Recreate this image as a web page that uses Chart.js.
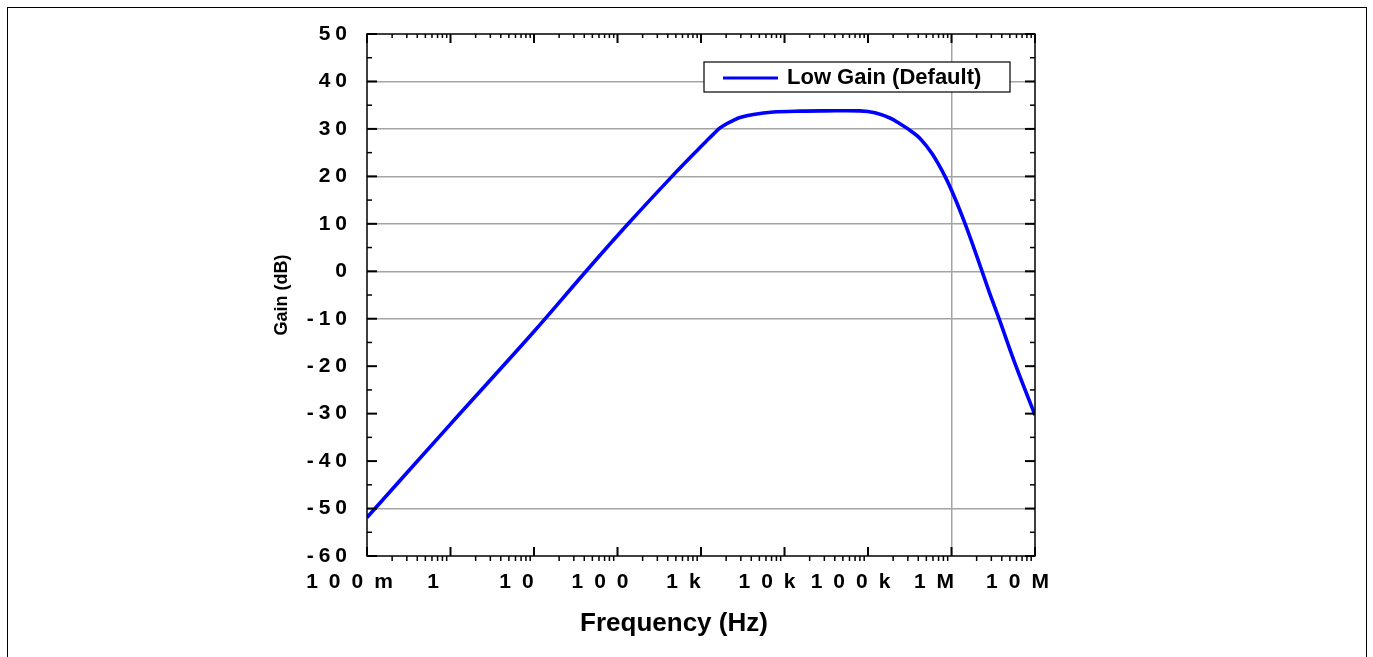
<!DOCTYPE html>
<html>
<head>
<meta charset="utf-8">
<script src="https://cdn.jsdelivr.net/npm/chart.js@4.4.0/dist/chart.umd.min.js"></script>
<style>
html,body{margin:0;padding:0;background:#fff;overflow:hidden;}
#wrap{position:relative;width:1373px;height:657px;overflow:hidden;}
#frame{position:absolute;left:7px;top:7px;width:1360px;height:700px;box-sizing:border-box;border:1px solid #000;pointer-events:none;}
canvas{position:absolute;left:0;top:0;}
</style>
</head>
<body>
<div id="wrap"><canvas id="c" width="1373" height="657"></canvas><div id="frame"></div></div>
<script>
// ---- data ----
const SERIES_LABEL = 'Low Gain (Default)';
const FREQ_HZ = [0.1, 1, 10, 42, 134, 450, 1000, 1170, 1410, 1690, 2030, 2440, 2930, 4240, 7350, 15300, 30000, 80000, 121000, 183000, 241000, 301000, 420000, 584000, 836000, 1100000, 1450000, 1830000, 2320000, 2890000, 3710000, 5920000, 10000000];
const GAIN_DB = [-51.9, -32.2, -12.7, 0, 10, 20, 26.3, 27.5, 28.9, 30.2, 31.1, 31.8, 32.4, 33.05, 33.55, 33.75, 33.8, 33.8, 33.4, 32.3, 31.1, 30.0, 28.0, 24.8, 20.0, 15.4, 10.1, 5.2, 0, -4.8, -10, -20, -30.3];
const X_TICK_VALUES = [0.1, 1, 10, 100, 1e3, 1e4, 1e5, 1e6, 1e7];
const X_TICK_LABELS = ['100m', '1', '10', '100', '1k', '10k', '100k', '1M', '10M'];
const Y_TICK_VALUES = [-60, -50, -40, -30, -20, -10, 0, 10, 20, 30, 40, 50];
const Y_GRID_VALUES = [-50, -10, 0, 10, 20, 30, 40];
const X_GRID_VALUES = [1e6];
const X_TITLE = 'Frequency (Hz)';
const Y_TITLE = 'Gain (dB)';

const FONT = '"Liberation Sans", Arial, Helvetica, sans-serif';
const GRID_GREY = '#a4a4a4';

// letter-spaced tick labels and a shifted x title, as in the reference
const axisTweaks = {
  id: 'axisTweaks',
  beforeDraw(chart) {
    const spacing = {x: '11px', y: '5px'};
    Object.keys(spacing).forEach(id => {
      const s = chart.scales[id];
      if (!s || s._tweaked) return;
      const origLabels = s.drawLabels;
      s.drawLabels = function(area) {
        const c = this.ctx;
        const prev = c.letterSpacing;
        c.letterSpacing = spacing[id];
        origLabels.call(this, area);
        c.letterSpacing = prev || '0px';
      };
      if (id === 'x') {
        const origTitle = s.drawTitle;
        s.drawTitle = function() {
          const c = this.ctx;
          c.save();
          c.translate(-27, 0);
          origTitle.call(this);
          c.restore();
        };
      }
      s._tweaked = true;
    });
  }
};

// frame box + tick marks on all four sides
const frameTicks = {
  id: 'frameTicks',
  afterDatasetsDraw(chart) {
    const {ctx, chartArea: a, scales: {x, y}} = chart;
    ctx.save();
    ctx.strokeStyle = '#000';
    ctx.lineCap = 'butt';
    const line = (x1, y1, x2, y2) => { ctx.beginPath(); ctx.moveTo(x1, y1); ctx.lineTo(x2, y2); ctx.stroke(); };
    ctx.lineWidth = 1.5;
    for (let d = 0; d < X_TICK_VALUES.length - 1; d++) {
      for (let m = 2; m <= 9; m++) {
        const px = x.getPixelForValue(X_TICK_VALUES[d] * m);
        line(px, a.bottom, px, a.bottom + 5);
        line(px, a.top, px, a.top + 4);
      }
    }
    ctx.lineWidth = 2;
    X_TICK_VALUES.forEach(v => {
      const px = x.getPixelForValue(v);
      line(px, a.bottom, px, a.bottom - 9);
      line(px, a.top, px, a.top + 9);
    });
    Y_TICK_VALUES.forEach((v, i) => {
      const py = y.getPixelForValue(v);
      ctx.lineWidth = 2;
      line(a.left, py, a.left + 10, py);
      line(a.right, py, a.right - 10, py);
      if (i < Y_TICK_VALUES.length - 1) {
        const pm = y.getPixelForValue(v + 5);
        ctx.lineWidth = 1.5;
        line(a.left, pm, a.left + 5, pm);
        line(a.right, pm, a.right - 5, pm);
      }
    });
    ctx.lineWidth = 1.5;
    ctx.strokeRect(a.left, a.top, a.right - a.left, a.bottom - a.top);
    ctx.restore();
  }
};

// legend box drawn inside the plot area
const insideLegend = {
  id: 'insideLegend',
  afterDraw(chart, args, opts) {
    const {ctx, chartArea: a} = chart;
    const ds = chart.data.datasets[0];
    const x0 = a.left + opts.offsetX, y0 = a.top + opts.offsetY;
    ctx.save();
    ctx.letterSpacing = '0px';
    ctx.fillStyle = '#fff';
    ctx.fillRect(x0, y0, opts.width, opts.height);
    ctx.lineWidth = 1.2;
    ctx.strokeStyle = '#000';
    ctx.strokeRect(x0, y0, opts.width, opts.height);
    const cy = y0 + opts.height / 2 + 1;
    ctx.strokeStyle = ds.borderColor;
    ctx.lineWidth = 3;
    ctx.beginPath(); ctx.moveTo(x0 + 19, cy); ctx.lineTo(x0 + 74, cy); ctx.stroke();
    ctx.fillStyle = '#000';
    ctx.font = 'bold 22px ' + FONT;
    ctx.textBaseline = 'middle';
    ctx.textAlign = 'left';
    ctx.fillText(ds.label, x0 + 83, cy);
    ctx.restore();
  }
};

new Chart(document.getElementById('c'), {
  type: 'line',
  data: {
    datasets: [{
      label: SERIES_LABEL,
      data: FREQ_HZ.map((f, i) => ({x: f, y: GAIN_DB[i]})),
      borderColor: '#0000ff',
      backgroundColor: '#0000ff',
      borderWidth: 3.6,
      pointRadius: 0,
      tension: 0.35,
      fill: false
    }]
  },
  options: {
    responsive: false,
    animation: false,
    devicePixelRatio: 1,
    layout: {padding: {left: 0, right: 338, top: 34, bottom: 0}},
    plugins: {
      legend: {display: false},
      tooltip: {enabled: false},
      insideLegend: {offsetX: 337, offsetY: 28, width: 306, height: 30}
    },
    scales: {
      x: {
        type: 'logarithmic',
        position: 'bottom',
        min: 0.1,
        max: 1e7,
        afterBuildTicks: s => { s.ticks = X_TICK_VALUES.map(v => ({value: v})); },
        afterFit: s => { s.height = 101; },
        ticks: {
          autoSkip: false, maxRotation: 0, minRotation: 0,
          padding: 14, labelOffset: -12, color: '#000',
          font: {family: FONT, size: 21, weight: 'bold'},
          callback: (v, i) => X_TICK_LABELS[i]
        },
        grid: {
          drawTicks: false, lineWidth: 1.5,
          color: c => (c.tick && X_GRID_VALUES.includes(c.tick.value)) ? GRID_GREY : 'rgba(0,0,0,0)'
        },
        border: {display: false},
        title: {
          display: true, text: X_TITLE, color: '#000',
          font: {family: FONT, size: 26, weight: 'bold'},
          padding: {top: 0, bottom: 18}
        }
      },
      y: {
        type: 'linear',
        position: 'left',
        min: -60,
        max: 50,
        afterBuildTicks: s => { s.ticks = Y_TICK_VALUES.map(v => ({value: v})); },
        afterFit: s => { s.width = 367; },
        ticks: {
          padding: 15, color: '#000',
          font: {family: FONT, size: 21, weight: 'bold'},
          callback: v => String(v)
        },
        grid: {
          drawTicks: false, lineWidth: 1.5,
          color: c => (c.tick && Y_GRID_VALUES.includes(c.tick.value)) ? GRID_GREY : 'rgba(0,0,0,0)'
        },
        border: {display: false},
        title: {
          display: true, text: Y_TITLE, color: '#000',
          font: {family: FONT, size: 18, weight: 'bold'},
          padding: {top: 271, bottom: 0}
        }
      }
    }
  },
  plugins: [axisTweaks, frameTicks, insideLegend]
});
</script>
</body>
</html>
